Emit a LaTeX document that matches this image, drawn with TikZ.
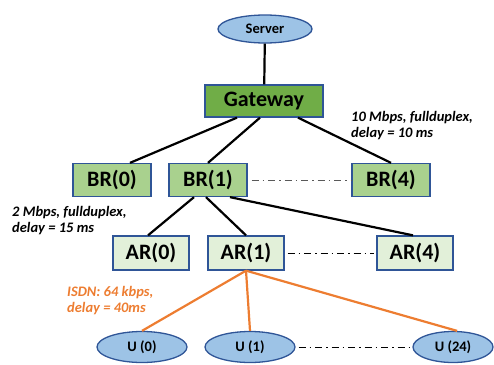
\documentclass[tikz,border=0pt]{standalone}
\usepackage{fontspec}
\setmainfont{Carlito}
\usepackage{tikz}
\usetikzlibrary{
	shapes.geometric,
	positioning,
	arrows.meta
}
\definecolor{hostblue}{HTML}{9DC3E6}
\definecolor{rimblue}{HTML}{2F5597}
\definecolor{gwgreen}{HTML}{70AD47}
\definecolor{brgreen}{HTML}{A9D18E}
\definecolor{argreen}{HTML}{E2F0D9}
\definecolor{isdn}{HTML}{ED7D31}

\begin{document}
\begin{tikzpicture}[x=1pt,y=-1pt,
		host/.style={ellipse,draw=rimblue,fill=hostblue,line width=1.3pt,
			minimum width=90pt,minimum height=31pt,inner sep=0pt,
			font=\bfseries\fontsize{14.5}{16}\selectfont},
		router/.style={rectangle,draw=rimblue,line width=1.3pt,inner sep=0pt,
			minimum width=78pt,minimum height=33pt,
			font=\bfseries\fontsize{22}{24}\selectfont},
		link/.style={line width=2.2pt,black},
		slow/.style={line width=2.2pt,isdn},
		more/.style={line width=0.9pt,dash pattern=on 7pt off 4pt on 1.5pt off 4pt},
		note/.style={align=left,anchor=north west,inner sep=0pt,
			font=\bfseries\itshape\fontsize{14.5}{16}\selectfont}
	]
		\useasboundingbox (0,0) rectangle (494,364);

		\draw
			node[host,minimum width=94pt,minimum height=28pt] (srv) at (265,29) {Server}
			node[router,fill=gwgreen,minimum width=118pt,minimum height=32pt] (gw) at (264,101) {Gateway}

			node[router,fill=brgreen] (br0) at (112,180) {BR(0)}
			node[router,fill=brgreen] (br1) at (208,180) {BR(1)}
			node[router,fill=brgreen] (br4) at (391,180) {BR(4)}

			node[router,fill=argreen,minimum width=76pt,minimum height=34pt] (ar0) at (151,253) {AR(0)}
			node[router,fill=argreen,minimum width=76pt,minimum height=34pt] (ar1) at (246,253) {AR(1)}
			node[router,fill=argreen,minimum width=76pt,minimum height=34pt] (ar4) at (415,253) {AR(4)}

			node[host] (u0)  at (142,347) {U (0)}
			node[host] (u1)  at (250,347) {U (1)}
			node[host,minimum width=80pt] (u24) at (453,347) {U (24)}
		;

		% backbone
		\draw[link] (srv) -- (gw);
		\draw[link] ([xshift=-27pt]gw.south) -- ([xshift=18pt]br0.north);
		\draw[link] ([xshift=-4pt]gw.south)  -- (br1.north);
		\draw[link] ([xshift=34pt]gw.south)  -- (br4.north);
		\draw[link] ([xshift=-14pt]br1.south) -- ([xshift=-3pt]ar0.north);
		\draw[link] ([xshift=-2pt]br1.south)  -- (ar1.north);
		\draw[link] ([xshift=22pt]br1.south)  -- ([xshift=-2pt]ar4.north);

		% access lines
		\draw[slow] (ar1.south) -- (u0.north);
		\draw[slow] (ar1.south) -- (u1.north);
		\draw[slow] (ar1.south) -- ([xshift=4pt]u24.north);

		% the ones left out
		\draw[more,black!65] ([xshift=4pt]br1.east) -- (br4.west);
		\draw[more] ([xshift=3pt]ar1.east) -- ([xshift=-2pt]ar4.west);
		\draw[more] ([xshift=3pt]u1.east) -- ([xshift=-3pt]u24.west);

		\node[note] (fast) at (351,111) {10 Mbps, fullduplex,\\delay = 10 ms};
		\node[note] (mid) at (12,206) {2 Mbps, fullduplex,\\delay = 15 ms};
		\node[note,text=isdn] (low) at (67,286) {ISDN: 64 kbps,\\delay = 40ms};
\end{tikzpicture}
\end{document}
